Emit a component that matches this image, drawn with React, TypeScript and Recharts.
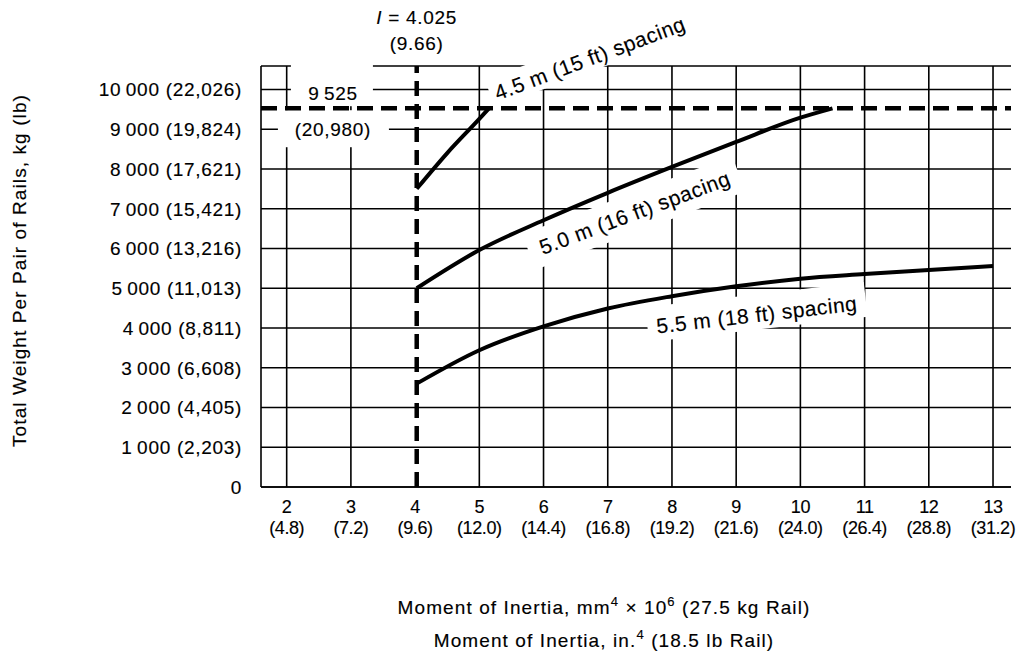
import React from "react";
import {
  LineChart,
  Line,
  XAxis,
  YAxis,
  CartesianGrid,
  ReferenceLine,
  ReferenceDot,
} from "recharts";

const FONT = "'Liberation Sans', Arial, Helvetica, sans-serif";
// scanned print looks a touch heavier than the plain font
const INK = { fill: "#000", stroke: "#000", strokeWidth: 0.15 };

// moment of inertia, mm^4 x 10^6, with the in.^4 equivalents below each tick
const inertiaTicks = [2, 3, 4, 5, 6, 7, 8, 9, 10, 11, 12, 13];
const inertiaInches = [
  "(4.8)",
  "(7.2)",
  "(9.6)",
  "(12.0)",
  "(14.4)",
  "(16.8)",
  "(19.2)",
  "(21.6)",
  "(24.0)",
  "(26.4)",
  "(28.8)",
  "(31.2)",
];
const inertiaDomain = [1.6, 13.28];

// total weight per pair of rails, kg, with lb equivalents
const weightTicks = [0, 1000, 2000, 3000, 4000, 5000, 6000, 7000, 8000, 9000, 10000];
const weightPounds = [
  "",
  "(2,203)",
  "(4,405)",
  "(6,608)",
  "(8,811)",
  "(11,013)",
  "(13,216)",
  "(15,421)",
  "(17,621)",
  "(19,824)",
  "(22,026)",
];

const minInertia = 4.025;
const minInertiaInches = "(9.66)";
const maxWeight = 9525;
const maxWeightPounds = "(20,980)";

const spacing45 = [
  { x: 4.025, y: 7500 },
  { x: 4.5, y: 8400 },
  { x: 5.0, y: 9260 },
  { x: 5.15, y: 9525 },
];

const spacing50 = [
  { x: 4.025, y: 5000 },
  { x: 5, y: 5960 },
  { x: 6, y: 6710 },
  { x: 7, y: 7400 },
  { x: 8, y: 8050 },
  { x: 9, y: 8680 },
  { x: 10, y: 9290 },
  { x: 10.5, y: 9525 },
];

const spacing55 = [
  { x: 4.025, y: 2600 },
  { x: 5, y: 3440 },
  { x: 6, y: 4040 },
  { x: 7, y: 4490 },
  { x: 8, y: 4800 },
  { x: 9, y: 5050 },
  { x: 10, y: 5240 },
  { x: 11, y: 5355 },
  { x: 12, y: 5460 },
  { x: 13, y: 5560 },
];

// curve labels: anchor in data units, rotation, white knock-out box [left, right, top, bottom]
const curveLabels = [
  { text: "4.5 m (15 ft) spacing", x: 6.72, y: 10790, angle: 20.5, box: [-106, 108, -16, 13] },
  { text: "5.0 m (16 ft) spacing", x: 7.42, y: 6905, angle: 20.5, box: [-113, 111, -19, 19] },
  { text: "5.5 m (18 ft) spacing", x: 9.32, y: 4340, angle: 6.6, box: [-110, 110, -20, 15] },
];

const formatKg = (v: number) =>
  v === 0 ? "0" : `${Math.floor(v / 1000)}\u2009${String(v % 1000).padStart(3, "0")}`;

// vertical grid at every tick except 4, which the dashed I line covers
const gridX = ({ xAxis, offset }: any) => {
  const s = xAxis && xAxis.scale;
  const toPx = (t: number) => {
    if (typeof s === "function") return s(t);
    if (s && typeof s.map === "function") return s.map(t);
    const [d0, d1] = inertiaDomain;
    return offset.left + ((t - d0) / (d1 - d0)) * offset.width;
  };
  return inertiaTicks.filter((t) => t !== 4).map(toPx);
};

function WeightTick(props: any) {
  const { x, y, payload } = props;
  const i = weightTicks.indexOf(payload.value);
  const lb = weightPounds[i];
  return (
    <text
      x={x - 19}
      y={y}
      dy="0.36em"
      textAnchor="end"
      fontFamily={FONT}
      fontSize={19}
      letterSpacing={0.7}
      {...INK}
    >
      {lb ? `${formatKg(payload.value)} ${lb}` : formatKg(payload.value)}
    </text>
  );
}

function InertiaTick(props: any) {
  const { x, y, payload } = props;
  const i = inertiaTicks.indexOf(payload.value);
  return (
    <g fontFamily={FONT} fontSize={18} letterSpacing={-0.4} {...INK}>
      <text x={x} y={y + 20} dy="0.36em" textAnchor="middle">
        {payload.value}
      </text>
      <text x={x} y={y + 41} dy="0.36em" textAnchor="middle">
        {inertiaInches[i]}
      </text>
    </g>
  );
}

function CurveLabel(props: any) {
  const { cx, cy, spec } = props;
  const [l, r, t, b] = spec.box;
  return (
    <g transform={`rotate(${-spec.angle} ${cx} ${cy})`}>
      <rect x={cx + l} y={cy + t} width={r - l} height={b - t} fill="#fff" />
      <text
        x={cx}
        y={cy}
        dy="0.36em"
        textAnchor="middle"
        fontFamily={FONT}
        fontSize={21}
        letterSpacing={0.5}
        {...INK}
      >
        {spec.text}
      </text>
    </g>
  );
}

function MaxWeightLabel(props: any) {
  const { cx, cy } = props;
  return (
    <g fontFamily={FONT} fontSize={19} letterSpacing={0.7}>
      <rect x={cx - 42} y={cy - 65} width={82} height={42} fill="#fff" />
      <rect x={cx - 55} y={cy - 19} width={111} height={37} fill="#fff" />
      <text x={cx} y={cy - 36} dy="0.36em" textAnchor="middle" {...INK}>
        {formatKg(maxWeight)}
      </text>
      <text x={cx} y={cy} dy="0.36em" textAnchor="middle" {...INK}>
        {maxWeightPounds}
      </text>
    </g>
  );
}

function MinInertiaLabel(props: any) {
  const { cx, cy } = props;
  return (
    <g fontFamily={FONT} fontSize={19} letterSpacing={0.7} {...INK}>
      <text x={cx} y={cy - 49} dy="0.36em" textAnchor="middle">
        <tspan fontStyle="italic">I</tspan> = {minInertia}
      </text>
      <text x={cx} y={cy - 23} dy="0.36em" textAnchor="middle">
        {minInertiaInches}
      </text>
    </g>
  );
}

const WeightTitle = (props: any) => {
  const vb = props.viewBox || { x: 0, y: 66, width: 261, height: 421 };
  const cx = vb.x + 19;
  const cy = vb.y + vb.height / 2 - 6;
  return (
    <text
      x={cx}
      y={cy}
      dy="0.36em"
      transform={`rotate(-90 ${cx} ${cy})`}
      textAnchor="middle"
      fontFamily={FONT}
      fontSize={19}
      letterSpacing={1.1}
      {...INK}
    >
      Total Weight Per Pair of Rails, kg (lb)
    </text>
  );
};

const InertiaTitle = (props: any) => {
  const vb = props.viewBox || { x: 261, y: 487, width: 750, height: 174 };
  const cx = vb.x + vb.width / 2 - 32;
  return (
    <g fontFamily={FONT} fontSize={19} letterSpacing={1.1} textAnchor="middle" {...INK}>
      <text x={cx} y={vb.y + 120} dy="0.36em">
        Moment of Inertia, mm
        <tspan fontSize={13} dy={-8}>4</tspan>
        <tspan dy={8}> × 10</tspan>
        <tspan fontSize={13} dy={-8}>6</tspan>
        <tspan dy={8}> (27.5 kg Rail)</tspan>
      </text>
      <text x={cx} y={vb.y + 153} dy="0.36em">
        Moment of Inertia, in.
        <tspan fontSize={13} dy={-8}>4</tspan>
        <tspan dy={8}> (18.5 lb Rail)</tspan>
      </text>
    </g>
  );
};

export default function App() {
  return (
    <div
      style={{
        position: "absolute",
        left: 0,
        top: 0,
        width: 1022,
        height: 661,
        background: "#fff",
      }}
    >
      <LineChart width={1022} height={661} margin={{ top: 66, right: 11, bottom: 0, left: 0 }}>
        <CartesianGrid
          stroke="#000"
          strokeWidth={1.6}
          verticalCoordinatesGenerator={gridX}
        />
        <XAxis
          type="number"
          dataKey="x"
          domain={inertiaDomain}
          ticks={inertiaTicks}
          allowDataOverflow
          height={174}
          tickLine={false}
          tickSize={0}
          tickMargin={0}
          axisLine={{ stroke: "#000", strokeWidth: 1.6 }}
          tick={<InertiaTick />}
          label={{ content: InertiaTitle }}
        />
        <YAxis
          type="number"
          dataKey="y"
          domain={[0, 10590]}
          ticks={weightTicks}
          allowDataOverflow
          width={261}
          tickLine={false}
          tickSize={0}
          tickMargin={0}
          axisLine={{ stroke: "#000", strokeWidth: 1.6 }}
          tick={<WeightTick />}
          label={{ content: WeightTitle }}
        />
        {curveLabels.map((c) => (
          <ReferenceDot
            key={c.text}
            x={c.x}
            y={c.y}
            r={0}
            ifOverflow="visible"
            zIndex={0}
            shape={(p: any) => <CurveLabel {...p} spec={c} />}
          />
        ))}
        <ReferenceDot
          x={2.72}
          y={9000}
          r={0}
          ifOverflow="visible"
          zIndex={0}
          shape={(p: any) => <MaxWeightLabel {...p} />}
        />
        <ReferenceDot
          x={minInertia}
          y={10590}
          r={0}
          ifOverflow="visible"
          zIndex={0}
          shape={(p: any) => <MinInertiaLabel {...p} />}
        />
        <ReferenceLine
          y={maxWeight}
          stroke="#000"
          strokeWidth={4.5}
          strokeDasharray="16 8"
          zIndex={350}
        />
        <ReferenceLine
          x={minInertia}
          stroke="#000"
          strokeWidth={4.5}
          strokeDasharray="15 8"
          zIndex={350}
        />
        <Line
          data={spacing45}
          dataKey="y"
          type="monotone"
          stroke="#000"
          strokeWidth={4}
          dot={false}
          isAnimationActive={false}
        />
        <Line
          data={spacing50}
          dataKey="y"
          type="monotone"
          stroke="#000"
          strokeWidth={4}
          dot={false}
          isAnimationActive={false}
        />
        <Line
          data={spacing55}
          dataKey="y"
          type="monotone"
          stroke="#000"
          strokeWidth={4}
          dot={false}
          isAnimationActive={false}
        />
      </LineChart>
    </div>
  );
}
